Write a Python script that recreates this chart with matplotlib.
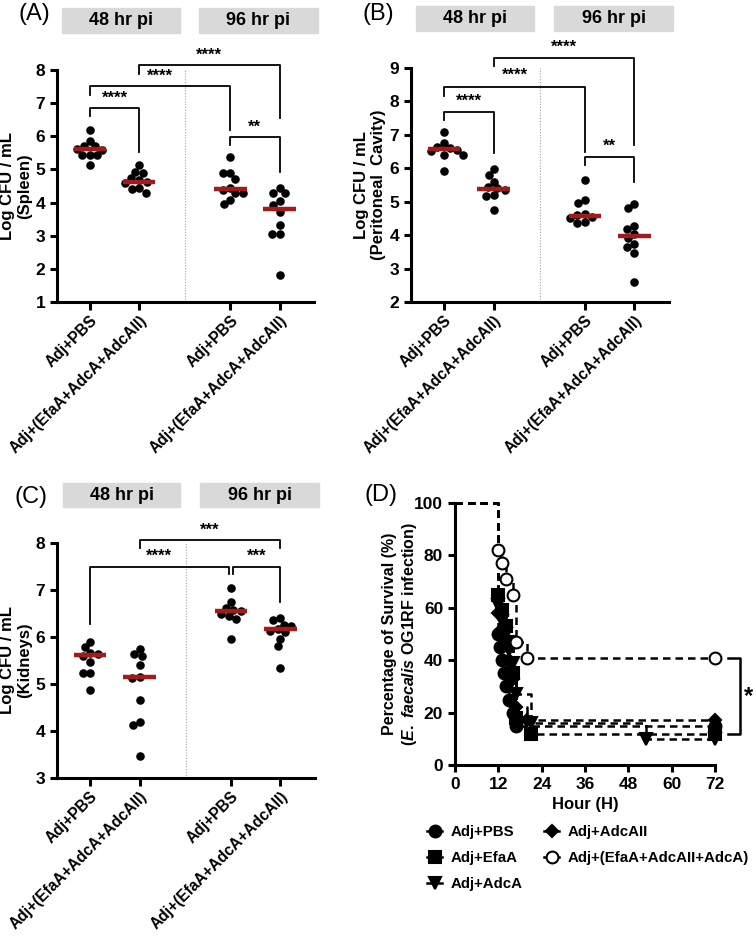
import numpy as np
import matplotlib
matplotlib.use("Agg")
import matplotlib.pyplot as plt
from matplotlib.patches import Rectangle
from matplotlib.lines import Line2D

plt.rcParams['font.family'] = ['Liberation Sans', 'DejaVu Sans']
plt.rcParams['font.weight'] = 'bold'
plt.rcParams['axes.labelweight'] = 'bold'
plt.rcParams['mathtext.fontset'] = 'custom'
plt.rcParams['mathtext.it'] = 'Liberation Sans:italic:bold'
plt.rcParams['mathtext.rm'] = 'Liberation Sans:bold'

W, H = 756, 936

# ---- данные ----
groups = ["Adj+PBS", "Adj+(EfaA+AdcA+AdcAII)", "Adj+PBS", "Adj+(EfaA+AdcA+AdcAII)"]
times = ["48 hr pi", "96 hr pi"]

spleen = [
    [6.2, 5.85, 5.7, 5.7, 5.62, 5.6, 5.43, 5.43, 5.43, 5.13],
    [5.12, 4.93, 4.9, 4.75, 4.67, 4.62, 4.6, 4.43, 4.4, 4.3],
    [5.37, 4.88, 4.88, 4.7, 4.45, 4.38, 4.28, 4.28, 4.08, 3.95],
    [4.43, 4.3, 4.28, 4.05, 3.92, 3.72, 3.32, 3.05, 3.05, 1.82],
]
spleen_med = [5.61, 4.63, 4.4, 3.82]

peritoneal = [
    [7.08, 6.75, 6.65, 6.6, 6.55, 6.52, 6.4, 6.4, 5.92],
    [5.98, 5.8, 5.6, 5.45, 5.4, 5.35, 5.2, 5.18, 4.75],
    [5.65, 5.05, 4.97, 4.62, 4.6, 4.55, 4.5, 4.38, 4.35],
    [4.93, 4.8, 4.27, 4.17, 4.03, 3.9, 3.73, 3.65, 3.47, 2.6],
]
peritoneal_med = [6.57, 5.38, 4.57, 3.98]

kidneys = [
    [5.89, 5.78, 5.66, 5.64, 5.6, 5.46, 5.23, 5.23, 4.87],
    [5.75, 5.64, 5.59, 5.4, 5.15, 5.12, 4.67, 4.2, 4.13, 3.47],
    [7.05, 6.74, 6.62, 6.58, 6.55, 6.5, 6.45, 6.38, 5.95],
    [6.4, 6.36, 6.26, 6.24, 6.16, 6.12, 6.1, 5.95, 5.8, 5.34],
]
kidneys_med = [5.62, 5.14, 6.56, 6.16]

# значимость: (группа1, группа2, верх, конец слева, конец справа, метка, y метки)
spleen_sig = [
    (0, 1, 6.84, 6.61, 5.53, "****", 7.14),
    (0, 2, 7.52, 7.24, 6.18, "****", 7.82),
    (1, 3, 8.15, 7.88, 6.54, "****", 8.45),
    (2, 3, 5.98, 5.73, 4.92, "**", 6.28),
]
peritoneal_sig = [
    (0, 1, 7.68, 7.45, 6.45, "****", 8.0),
    (0, 2, 8.43, 8.15, 6.5, "****", 8.77),
    (1, 3, 9.3, 9.07, 6.7, "****", 9.63),
    (2, 3, 6.33, 6.1, 5.6, "**", 6.67),
]
kidneys_sig = [
    (0, 2, 7.5, 6.27, 7.33, "****", 7.72),
    (2, 3, 7.5, 7.33, 6.74, "***", 7.72),
    (1, 3, 8.06, 7.9, 7.9, "***", 8.28),
]

# выживаемость (D)
surv_labels = ["Adj+PBS", "Adj+EfaA", "Adj+AdcA", "Adj+AdcAII", "Adj+(EfaA+AdcAII+AdcA)"]
surv_time = [
    [0, 12, 12.5, 13, 13.5, 14, 15, 16, 17, 72],
    [0, 12, 13, 14, 15, 16, 17, 21, 72],
    [0, 12, 13, 14, 15, 16, 17, 21, 53, 72],
    [0, 12, 13, 14, 15, 16, 17, 20, 72],
    [0, 12, 13, 14, 16, 17, 20, 72],
]
surv_pct = [
    [100, 50, 45, 40, 35, 30, 25, 20, 15, 15],
    [100, 65, 59, 53, 47, 35, 18, 12, 12],
    [100, 61, 55, 50, 44, 39, 27, 16, 10, 10],
    [100, 58, 52, 46, 40, 33, 22, 17, 17],
    [100, 82, 77, 71, 65, 47, 41, 41],
]
surv_markers = ["o", "s", "v", "D", "o"]

xpos = [0, 1, 2.85, 3.85]
RED = "#A31A1A"


def add_ax(left, right, top, bottom):
    return fig.add_axes([left / W, 1 - bottom / H, (right - left) / W, (bottom - top) / H])


def header(x0, x1, y0, y1, label):
    fig.patches.append(Rectangle((x0 / W, 1 - y1 / H), (x1 - x0) / W, (y1 - y0) / H,
                                 transform=fig.transFigure, color="#D9D9D9", zorder=0))
    fig.text((x0 + x1) / 2 / W, 1 - (y0 + y1) / 2 / H, label, ha="center", va="center",
             fontsize=13, fontweight="bold")


def swarm(ax, x0, vals, diam):
    # простой beeswarm: каждая точка сдвигается вбок, пока не перестанет перекрываться
    vals = np.asarray(vals, float)
    pts = ax.transData.transform(np.column_stack([np.full(len(vals), x0), vals]))
    cands = sorted(np.arange(-40, 40.5, 0.5), key=abs)
    placed = []
    xs = np.zeros(len(vals))
    for i in np.argsort(-vals):
        px, py = pts[i]
        for c in cands:
            if all((px + c - qx) ** 2 + (py - qy) ** 2 >= diam ** 2 for qx, qy in placed):
                break
        placed.append((px + c, py))
        xs[i] = px + c
    return ax.transData.inverted().transform(np.column_stack([xs, pts[:, 1]]))[:, 0]


def style_axes(ax):
    for s in ["top", "right"]:
        ax.spines[s].set_visible(False)
    for s in ["left", "bottom"]:
        ax.spines[s].set_linewidth(2.2)
    ax.tick_params(axis="both", width=2.2)
    ax.tick_params(axis="y", labelsize=12.5)
    for lab in ax.get_yticklabels():
        lab.set_fontweight("bold")


def dot_panel(ax, data, med, sig, ylim, ylabel, label_x, gap=False):
    ax.set_xlim(-0.67, 4.55)
    ax.set_ylim(*ylim)
    ax.set_yticks(range(ylim[0], ylim[1] + 1))
    ax.axvline(1.93, color="#A0A0A0", ls=(0, (1, 1.5)), lw=0.8, zorder=0)
    for x0, vals, m in zip(xpos, data, med):
        xs = swarm(ax, x0, vals, 7.4)
        ax.scatter(xs, vals, s=38, color="black", zorder=3, linewidths=0, clip_on=False)
        ax.plot([x0 - 0.33, x0 + 0.33], [m, m], color=RED, lw=3.2, zorder=4,
                solid_capstyle="butt")
    for i, j, top, y1, y2, lab, ly in sig:
        x1, x2 = xpos[i], xpos[j]
        if gap and j == 2:
            x2 -= 0.05
        if gap and i == 2:
            x1 += 0.05
        ax.plot([x1, x1, x2, x2], [y1, top, top, y2], color="black", lw=1.3, clip_on=False)
        ax.text((x1 + x2) / 2, ly, lab, ha="center", va="center", fontsize=12,
                fontweight="bold", clip_on=False)
    style_axes(ax)
    ax.set_xticks(xpos)
    ax.set_xticklabels(groups, rotation=45, ha="right", rotation_mode="anchor",
                       fontsize=11.2, fontweight="bold")
    ax.tick_params(axis="x", length=6, pad=2)
    ax.tick_params(axis="y", length=5)
    ax.set_ylabel(ylabel, fontsize=12, fontweight="bold")
    ax.yaxis.set_label_coords(label_x, 0.5)


fig = plt.figure(figsize=(W / 100, H / 100), dpi=100)

# (A)
axA = add_ax(57, 314, 70, 302)
dot_panel(axA, spleen, spleen_med, spleen_sig, (1, 8), "Log CFU / mL\n(Spleen)", -0.095)
header(62, 180, 8, 33, times[0])
header(199, 318, 8, 33, times[1])
fig.text(18 / W, 1 - 14 / H, "(A)", fontsize=17, fontweight="normal", va="center")

# (B)
axB = add_ax(411, 669, 68, 302)
dot_panel(axB, peritoneal, peritoneal_med, peritoneal_sig, (2, 9),
          "Log CFU / mL\n(Peritoneal  Cavity)", -0.097)
header(416, 534, 6, 31, times[0])
header(554, 673, 6, 31, times[1])
fig.text(362 / W, 1 - 14 / H, "(B)", fontsize=17, fontweight="normal", va="center")

# (C)
axC = add_ax(57, 315, 543, 778)
dot_panel(axC, kidneys, kidneys_med, kidneys_sig, (3, 8), "Log CFU / mL\n(Kidneys)", -0.095,
          gap=True)
header(63, 180, 483, 507, times[0])
header(200, 319, 483, 507, times[1])
fig.text(15 / W, 1 - 497 / H, "(C)", fontsize=17, fontweight="normal", va="center")

# (D)
axD = add_ax(455, 715, 503, 765)
axD.set_xlim(0, 72)
axD.set_ylim(0, 100)
handles = []
for t, s, mk, lab in zip(surv_time, surv_pct, surv_markers, surv_labels):
    axD.step(t, s, where="post", color="black", lw=1.8, ls=(0, (3, 2)), clip_on=False)
    fc = "white" if lab.startswith("Adj+(") else "black"
    ms = 6.5 if mk == "D" else 8.5
    axD.plot(t[1:], s[1:], ls="none", marker=mk, ms=ms, mfc=fc, mec="black", mew=1.5,
             clip_on=False, zorder=4)
    handles.append(Line2D([0], [0], color="black", lw=1.8, marker=mk, ms=ms, mfc=fc,
                          mec="black", mew=1.5))
style_axes(axD)
axD.set_xticks(range(0, 73, 12))
axD.set_yticks(range(0, 101, 20))
axD.tick_params(axis="both", length=5, labelsize=12.5)
for lab in axD.get_xticklabels() + axD.get_yticklabels():
    lab.set_fontweight("bold")
axD.set_xlabel("Hour (H)", fontsize=12, fontweight="bold", labelpad=4)
axD.set_ylabel("Percentage of Survival (%)\n" + r"($\it{E.\ faecalis}$ OG1RF infection)",
               fontsize=11.5, fontweight="bold")
axD.yaxis.set_label_coords(-0.14, 0.5)
axD.plot([75.5, 79, 79, 75.5], [41, 41, 12, 12], color="black", lw=1.8, clip_on=False)
axD.text(81.2, 26, "*", fontsize=17, fontweight="bold", ha="center", va="center")
fig.text(365 / W, 1 - 495 / H, "(D)", fontsize=17, fontweight="normal", va="center")

fig.legend(handles, surv_labels, ncol=2, loc="upper left",
           bbox_to_anchor=(421 / W, 1 - 819 / H), frameon=False,
           handlelength=1.0, handletextpad=0.6, columnspacing=1.4, labelspacing=0.8,
           borderaxespad=0, prop={"weight": "bold", "size": 10.8})

fig.savefig("out.png", dpi=100)
